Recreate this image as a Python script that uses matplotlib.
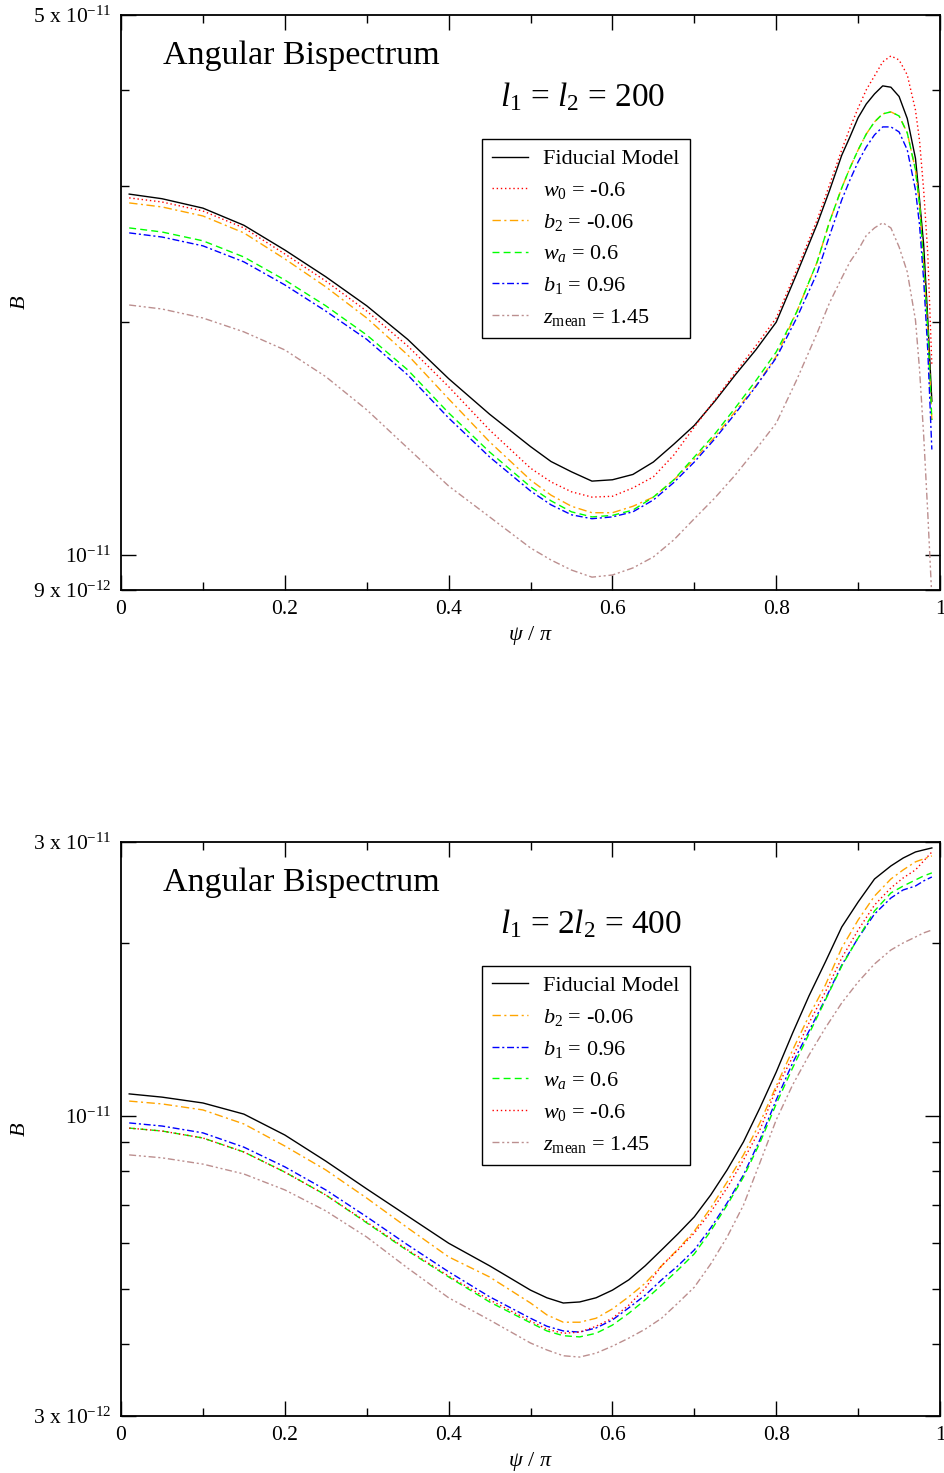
import matplotlib.pyplot as plt
from matplotlib.ticker import NullFormatter

plt.rcParams['font.family'] = ['Liberation Serif', 'DejaVu Serif']
plt.rcParams['mathtext.fontset'] = 'custom'
plt.rcParams['mathtext.rm'] = 'Liberation Serif'
plt.rcParams['mathtext.it'] = 'Liberation Serif:italic'

# B in units of 1e-11, l1 = l2 = 200
psi_top = [0.01, 0.05, 0.1, 0.15, 0.2, 0.25, 0.3, 0.35, 0.4, 0.45, 0.5,
           0.525, 0.55, 0.575, 0.6, 0.625, 0.65, 0.675, 0.7, 0.725, 0.75, 0.775, 0.8, 0.825, 0.85,
           0.865, 0.88, 0.89, 0.9, 0.91, 0.92, 0.93, 0.94, 0.95, 0.96, 0.97, 0.975, 0.98, 0.985, 0.99]
fid_top = [2.93, 2.89, 2.81, 2.67, 2.48, 2.29, 2.10, 1.90, 1.69, 1.52, 1.38,
           1.32, 1.28, 1.245, 1.25, 1.27, 1.318, 1.39, 1.47, 1.58, 1.709, 1.841, 2.00, 2.31, 2.68,
           2.96, 3.29, 3.475, 3.68, 3.834, 3.95, 4.046, 4.03, 3.92, 3.67, 3.26, 2.88, 2.52, 2.02, 1.58]
w0_top = [2.897, 2.862, 2.786, 2.649, 2.451, 2.261, 2.067, 1.863, 1.650, 1.45, 1.294,
          1.242, 1.206, 1.187, 1.19, 1.22, 1.261, 1.346, 1.463, 1.586, 1.72, 1.863, 2.025, 2.337, 2.714,
          3.011, 3.343, 3.569, 3.788, 4.0, 4.168, 4.346, 4.424, 4.371, 4.18, 3.765, 3.434, 2.967, 2.458, 1.76]
b2_top = [2.854, 2.820, 2.745, 2.61, 2.415, 2.222, 2.025, 1.814, 1.591, 1.40, 1.249,
          1.194, 1.155, 1.133, 1.133, 1.155, 1.187, 1.249, 1.329, 1.420, 1.533, 1.654, 1.806, 2.062, 2.394,
          2.697, 2.985, 3.168, 3.343, 3.506, 3.634, 3.722, 3.744, 3.699, 3.517, 3.150, 2.838, 2.372, 1.954, 1.494]
wa_top = [2.649, 2.617, 2.549, 2.429, 2.268, 2.10, 1.925, 1.735, 1.526, 1.358, 1.224,
          1.174, 1.136, 1.119, 1.124, 1.142, 1.187, 1.25, 1.338, 1.433, 1.549, 1.679, 1.830, 2.062, 2.394,
          2.697, 2.985, 3.168, 3.343, 3.506, 3.634, 3.722, 3.744, 3.699, 3.517, 3.150, 2.838, 2.372, 1.954, 1.494]
b1_top = [2.61, 2.578, 2.511, 2.394, 2.235, 2.067, 1.90, 1.709, 1.503, 1.338, 1.209,
          1.160, 1.126, 1.113, 1.119, 1.136, 1.177, 1.24, 1.318, 1.412, 1.523, 1.650, 1.798, 2.025, 2.316,
          2.586, 2.88, 3.056, 3.226, 3.373, 3.496, 3.58, 3.58, 3.527, 3.343, 2.967, 2.67, 2.268, 1.841, 1.368]
zm_top = [2.105, 2.080, 2.025, 1.943, 1.841, 1.700, 1.540, 1.374, 1.227, 1.119, 1.020,
          0.984, 0.955, 0.935, 0.941, 0.961, 0.993, 1.045, 1.113, 1.184, 1.268, 1.368, 1.48, 1.684, 1.937,
          2.118, 2.282, 2.394, 2.48, 2.59, 2.649, 2.69, 2.649, 2.503, 2.323, 2.013, 1.735, 1.429, 1.133, 0.88]

# B in units of 1e-11, l1 = 2 l2 = 400
psi_bot = [0.01, 0.05, 0.1, 0.15, 0.2, 0.25, 0.3, 0.35, 0.4, 0.45, 0.5,
           0.52, 0.54, 0.56, 0.58, 0.6, 0.62, 0.64, 0.66, 0.68, 0.7, 0.72,
           0.74, 0.76, 0.78, 0.8, 0.82, 0.84, 0.86, 0.88, 0.9, 0.92, 0.94,
           0.955, 0.97, 0.98, 0.99]
fid_bot = [1.092, 1.078, 1.053, 1.007, 0.926, 0.834, 0.746, 0.669, 0.600, 0.548, 0.497,
           0.482, 0.472, 0.474, 0.482, 0.497, 0.518, 0.548, 0.584, 0.623, 0.667, 0.728,
           0.805, 0.901, 1.032, 1.192, 1.394, 1.618, 1.854, 2.133, 2.358, 2.586, 2.725,
           2.813, 2.882, 2.906, 2.929]
b2_bot = [1.061, 1.049, 1.024, 0.968, 0.886, 0.805, 0.719, 0.638, 0.568, 0.524, 0.472,
          0.450, 0.437, 0.437, 0.444, 0.461, 0.484, 0.511, 0.548, 0.586, 0.630, 0.691,
          0.767, 0.855, 0.972, 1.127, 1.302, 1.493, 1.690, 1.961, 2.194, 2.415, 2.586,
          2.682, 2.770, 2.803, 2.837]
b1_bot = [0.972, 0.960, 0.934, 0.882, 0.815, 0.743, 0.667, 0.596, 0.535, 0.484, 0.444,
          0.430, 0.422, 0.420, 0.427, 0.441, 0.463, 0.487, 0.518, 0.548, 0.584, 0.638,
          0.705, 0.789, 0.908, 1.066, 1.236, 1.405, 1.598, 1.831, 2.041, 2.247, 2.396,
          2.475, 2.514, 2.566, 2.607]
wa_bot = [0.952, 0.941, 0.915, 0.865, 0.798, 0.728, 0.651, 0.582, 0.524, 0.474, 0.436,
          0.422, 0.414, 0.412, 0.418, 0.432, 0.453, 0.478, 0.507, 0.539, 0.575, 0.630,
          0.699, 0.782, 0.897, 1.049, 1.212, 1.389, 1.591, 1.824, 2.041, 2.275, 2.445,
          2.514, 2.576, 2.618, 2.650]
w0_bot = [0.952, 0.941, 0.915, 0.865, 0.798, 0.728, 0.653, 0.584, 0.526, 0.478, 0.439,
          0.425, 0.418, 0.420, 0.430, 0.444, 0.468, 0.501, 0.548, 0.584, 0.625, 0.680,
          0.749, 0.838, 0.945, 1.114, 1.266, 1.451, 1.644, 1.884, 2.107, 2.330, 2.495,
          2.597, 2.682, 2.780, 2.882]
zm_bot = [0.855, 0.845, 0.824, 0.792, 0.743, 0.683, 0.615, 0.543, 0.482, 0.441, 0.402,
          0.391, 0.382, 0.380, 0.386, 0.397, 0.410, 0.425, 0.444, 0.472, 0.503, 0.552,
          0.615, 0.699, 0.828, 0.984, 1.132, 1.276, 1.423, 1.573, 1.711, 1.839, 1.945,
          2.001, 2.049, 2.083, 2.107]

styles = {
    'fid': dict(color='black', ls='-', label='Fiducial Model'),
    'w0': dict(color='#ff0000', ls=(0, (1, 2)), label=r'$w_0$ = -0.6'),
    'b2': dict(color='#ffa500', ls=(0, (6, 2.5, 1.5, 2.5)), label=r'$b_2$ = -0.06'),
    'wa': dict(color='#00ff00', ls=(0, (5, 3)), label=r'$w_a$ = 0.6'),
    'b1': dict(color='#0000ff', ls=(0, (5, 2, 1.5, 2)), label=r'$b_1$ = 0.96'),
    'zm': dict(color='#bc8f8f', ls=(0, (5, 2, 1.5, 2, 1.5, 2)), label=r'$z_{\mathrm{mean}}$ = 1.45'),
}

fig = plt.figure(figsize=(9.44, 14.73), dpi=100)
ax1 = fig.add_axes([0.1282, 0.5995, 0.8676, 0.3904])
ax2 = fig.add_axes([0.1282, 0.0387, 0.8676, 0.3897])


def draw_panel(ax, psi, curves, ylim, major, major_labels, minor, note):
    for key, vals in curves:
        st = styles[key]
        ax.plot(psi, [v * 1e-11 for v in vals], color=st['color'], linestyle=st['ls'],
                linewidth=1.0, label=st['label'])
    ax.set_yscale('log')
    ax.set_xlim(0, 1)
    ax.set_ylim(*ylim)
    ax.set_xticks([0, 0.2, 0.4, 0.6, 0.8, 1.0])
    ax.set_xticklabels(['0', '0.2', '0.4', '0.6', '0.8', '1'])
    ax.set_xticks([0.1, 0.3, 0.5, 0.7, 0.9], minor=True)
    ax.set_yticks(major)
    ax.set_yticklabels(major_labels)
    ax.set_yticks(minor, minor=True)
    ax.yaxis.set_minor_formatter(NullFormatter())
    ax.tick_params(which='both', direction='in', top=True, right=True, width=1.0,
                   labelsize=15.5, pad=7)
    ax.tick_params(which='major', length=11)
    ax.tick_params(which='minor', length=6)
    for sp in ax.spines.values():
        sp.set_linewidth(1.3)
    ax.set_xlabel(r'$\psi$ / $\pi$', fontsize=16, labelpad=4)
    ax.set_ylabel(r'$B$', fontsize=16, labelpad=2)
    ax.text(0.051, 0.929, 'Angular Bispectrum', transform=ax.transAxes,
            fontsize=24.5, va='center', ha='left')
    ax.text(0.463, 0.858, note, transform=ax.transAxes, fontsize=24, va='center', ha='left')
    leg = ax.legend(loc='upper left', bbox_to_anchor=(0.4408, 0.7845), fontsize=16,
                    frameon=True, fancybox=False, framealpha=1, edgecolor='black',
                    handlelength=1.6, handletextpad=0.7, labelspacing=0.48,
                    borderpad=0.45, borderaxespad=0)
    leg.get_frame().set_linewidth(1.0)


draw_panel(ax1, psi_top,
           [('fid', fid_top), ('w0', w0_top), ('b2', b2_top),
            ('wa', wa_top), ('b1', b1_top), ('zm', zm_top)],
           (9e-12, 5e-11), [9e-12, 1e-11, 5e-11],
           [r'9 x 10$^{-12}$', r'10$^{-11}$', r'5 x 10$^{-11}$'],
           [2e-11, 3e-11, 4e-11],
           r'$l_1$ = $l_2$ = 200')

draw_panel(ax2, psi_bot,
           [('fid', fid_bot), ('b2', b2_bot), ('b1', b1_bot),
            ('wa', wa_bot), ('w0', w0_bot), ('zm', zm_bot)],
           (3e-12, 3e-11), [3e-12, 1e-11, 3e-11],
           [r'3 x 10$^{-12}$', r'10$^{-11}$', r'3 x 10$^{-11}$'],
           [4e-12, 5e-12, 6e-12, 7e-12, 8e-12, 9e-12, 2e-11],
           r'$l_1$ = 2$l_2$ = 400')

fig.savefig('out.png', dpi=100)
